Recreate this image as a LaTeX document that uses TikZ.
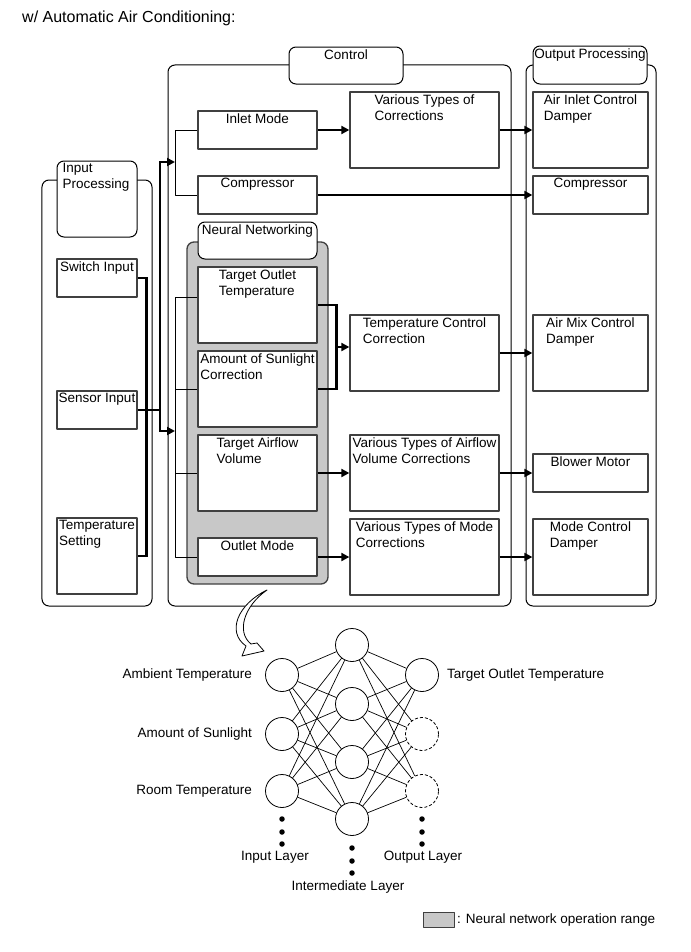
\documentclass[tikz,border=0pt]{standalone}
\usepackage{fontspec}
\setmainfont{Liberation Sans}
\usetikzlibrary{arrows.meta,calc}
\definecolor{nngray}{HTML}{C8C8C8}
\definecolor{edgegray}{HTML}{404040}
\begin{document}
\begin{tikzpicture}[x=1bp,y=-1bp,line join=round,
  lab/.style={font=\fontsize{13.5bp}{16bp}\selectfont, align=left, inner sep=0pt, text=black},
  intop/.style={lab, anchor=north, yshift=-3bp},
  cont/.style={draw=black, line width=1bp, rounded corners=7bp, fill=white, inner sep=0pt},
  nnrange/.style={draw=edgegray, line width=1.3bp, rounded corners=7bp, fill=nngray, inner sep=0pt},
  box/.style={draw=edgegray, line width=1.3bp, fill=white, inner sep=0pt},
  thk/.style={line width=2.7bp, line join=miter},
  thka/.style={thk, -{Triangle[length=8bp,width=8bp]}},
  thn/.style={line width=0.9bp},
  neuron/.style={circle, draw=black, line width=0.8bp, fill=white, minimum size=33bp, inner sep=0pt},
  ghost/.style={neuron, dash pattern=on 3bp off 2bp},
  link/.style={line width=0.7bp},
  dotm/.style={circle, fill=black, minimum size=5.5bp, inner sep=0pt}
]
\useasboundingbox (0,0) rectangle (691,952);

% title
\node[lab, font=\fontsize{16bp}{18bp}\selectfont, anchor=base west] (title) at (22,22) {w/ Automatic Air Conditioning:};

% containers
\node[cont, minimum width=110bp, minimum height=426bp] (inC) at (97,393) {};
\node[cont, minimum width=343bp, minimum height=541bp] (ctlC) at (339.5,335.5) {};
\node[cont, minimum width=130bp, minimum height=541bp] (outC) at (591,335.5) {};
\node[nnrange, minimum width=141bp, minimum height=342bp] (nn) at (257.5,413) {};

% tabs
\node[cont, minimum width=80bp, minimum height=76bp, label={[lab, anchor=north west, xshift=6bp, yshift=-3bp]north west:Input\\Processing}] (inT) at (97,199) {};
\node[cont, minimum width=114bp, minimum height=37bp, label={[intop]north:Control}] (ctlT) at (346,65.5) {};
\node[cont, minimum width=114bp, minimum height=38bp, label={[intop]north:Output Processing}] (outT) at (590,65) {};
\node[cont, minimum width=119bp, minimum height=37bp, label={[intop]north:Neural Networking}] (nnT) at (257.5,240.5) {};

% input boxes
\node[box, minimum width=80bp, minimum height=38bp, label={[intop]north:Switch Input}] (si) at (97,278) {};
\node[box, minimum width=80bp, minimum height=38bp, label={[intop]north:Sensor Input}] (sens) at (97,410) {};
\node[box, minimum width=80bp, minimum height=76bp, label={[intop]north:Temperature\\Setting}] (ts) at (97,556) {};

% control boxes
\node[box, minimum width=119bp, minimum height=38bp, label={[intop]north:Inlet Mode}] (inlet) at (257.5,130) {};
\node[box, minimum width=119bp, minimum height=38bp, label={[intop]north:Compressor}] (comp) at (257.5,195) {};
\node[box, minimum width=119bp, minimum height=76bp, label={[intop]north:Target Outlet\\Temperature}] (tot) at (257.5,305) {};
\node[box, minimum width=119bp, minimum height=76bp, label={[intop]north:Amount of Sunlight\\Correction}] (asc) at (257.5,389) {};
\node[box, minimum width=119bp, minimum height=76bp, label={[intop]north:Target Airflow\\Volume}] (tav) at (257.5,473) {};
\node[box, minimum width=119bp, minimum height=38bp, label={[intop]north:Outlet Mode}] (om) at (257.5,557) {};

\node[box, minimum width=149bp, minimum height=76bp, label={[intop]north:Various Types of\\Corrections}] (vtc) at (424.5,130) {};
\node[box, minimum width=149bp, minimum height=76bp, label={[intop]north:Temperature Control\\Correction}] (tcc) at (424.5,353) {};
\node[box, minimum width=149bp, minimum height=76bp, label={[intop]north:Various Types of Airflow\\Volume Corrections}] (vtav) at (424.5,473) {};
\node[box, minimum width=149bp, minimum height=76bp, label={[intop]north:Various Types of Mode\\Corrections}] (vtm) at (424.5,557) {};

% output boxes
\node[box, minimum width=115bp, minimum height=76bp, label={[intop]north:Air Inlet Control\\Damper}] (aicd) at (590.5,130) {};
\node[box, minimum width=115bp, minimum height=38bp, label={[intop]north:Compressor}] (ocomp) at (590.5,195) {};
\node[box, minimum width=115bp, minimum height=76bp, label={[intop]north:Air Mix Control\\Damper}] (amcd) at (590.5,353) {};
\node[box, minimum width=115bp, minimum height=38bp, label={[intop]north:Blower Motor}] (bm) at (590.5,473) {};
\node[box, minimum width=115bp, minimum height=76bp, label={[intop]north:Mode Control\\Damper}] (mcd) at (590.5,557) {};

% thick connectors
\draw[thka] (inlet) -- (vtc);
\draw[thka] (vtc) -- (aicd);
\draw[thka] (comp) -- (ocomp);
\draw[thk] (tot.east) -- ++(19,0) |- (asc.east);
\coordinate (jm) at (336,347);
\draw[thka] (jm) -- (jm -| tcc.west);
\draw[thka] (tcc) -- (amcd);
\draw[thka] (tav) -- (vtav);
\draw[thka] (vtav) -- (bm);
\draw[thka] (om) -- (vtm);
\draw[thka] (vtm) -- (mcd);

% input bus
\coordinate (busT) at (160,162);
\coordinate (busB) at (160,431);
\coordinate (trT) at (175,162);
\coordinate (trB) at (175,431);
\draw[thk] (si.east) -- ++(9,0) |- (ts.east);
\draw[thk] (sens.east) -- (sens.east -| busT);
\draw[thk, {Triangle[length=8bp,width=8bp]}-{Triangle[length=8bp,width=8bp]}] (trT) -- (busT) -- (busB) -- (trB);

% thin trees
\draw[thn] (inlet.west) -- (inlet.west -| trT) |- (comp.west);
\coordinate (tr1) at (175,297);
\draw[thn] ($(tot.west)+(0,-8)$) -- (tr1) |- (om.west);
\draw[thn] (asc.west) -- (asc.west -| trT);
\draw[thn] (tav.west) -- (tav.west -| trT);

% curved hollow arrow
\draw[line width=0.8bp, fill=white] (267,590) .. controls (238,604) and (226,632) .. (246,646)
  -- (242,656) -- (264,651) -- (257,643) -- (251,644)
  .. controls (236,632) and (244,606) .. (267,590) -- cycle;

% neural network
\node[neuron] (i1) at (282,675) {};
\node[neuron] (i2) at (282,734) {};
\node[neuron] (i3) at (282,791) {};
\node[neuron] (h1) at (352,645) {};
\node[neuron] (h2) at (352,704) {};
\node[neuron] (h3) at (352,762) {};
\node[neuron] (h4) at (352,819) {};
\node[neuron] (o1) at (422,675) {};
\node[ghost] (o2) at (422,734) {};
\node[ghost] (o3) at (422,791) {};
\foreach \a in {1,2,3}{\foreach \b in {1,2,3,4}{\draw[link] (i\a) -- (h\b);}}
\foreach \b in {1,2,3,4}{\foreach \c in {1,2,3}{\draw[link] (h\b) -- (o\c);}}

\node[lab, anchor=east] (l1) at (252,675) {Ambient Temperature};
\node[lab, anchor=east] (l2) at (252,734) {Amount of Sunlight};
\node[lab, anchor=east] (l3) at (252,791) {Room Temperature};
\node[lab, anchor=west] (l4) at (447,675) {Target Outlet Temperature};

\foreach \y [count=\k] in {819,832,844}{
  \node[dotm] (di\k) at (282,\y) {};
  \node[dotm] (do\k) at (422,\y) {};
}
\foreach \y [count=\k] in {848,861,873}{
  \node[dotm] (dh\k) at (352,\y) {};
}
\node[lab] (lIn) at (275,857) {Input Layer};
\node[lab] (lOut) at (423,857) {Output Layer};
\node[lab] (lMid) at (348,887) {Intermediate Layer};

% legend
\node[draw=edgegray, line width=1bp, fill=nngray, minimum width=31bp, minimum height=15bp, inner sep=0pt] (leg) at (438.5,919.5) {};
\node[lab, anchor=west] (legt) at (457,919.5) {: Neural network operation range};
\end{tikzpicture}
\end{document}
